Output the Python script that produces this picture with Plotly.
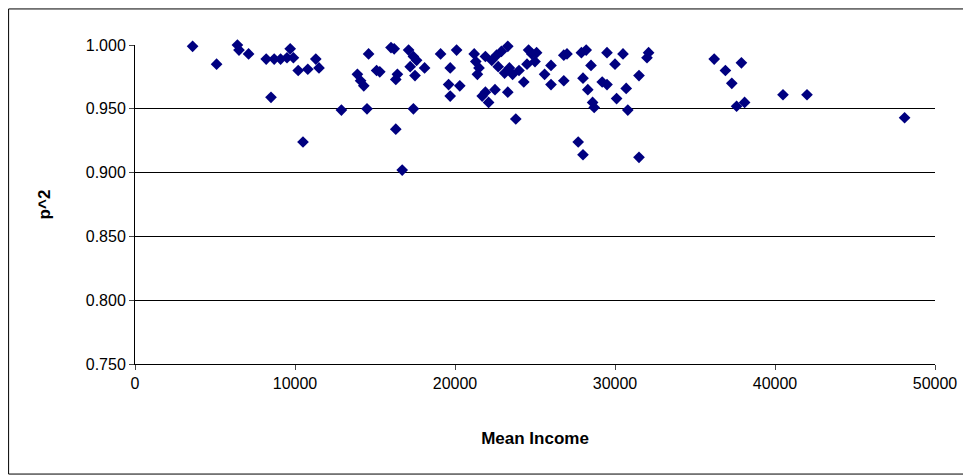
import plotly.graph_objects as go

income = [3600, 5100, 6400, 6500, 7100, 8200, 8500, 8700, 9100, 9500, 9700, 9900,
          10200, 10500, 10800, 11300, 11500, 12900, 13900, 14100, 14300, 14500, 14600,
          15100, 15300, 16000, 16200, 16300, 16300, 16400, 16700, 17100, 17200, 17400,
          17400, 17500, 17600, 18100, 19100, 19600, 19700, 19700, 20100, 20300, 21200,
          21300, 21400, 21500, 21700, 21900, 21900, 22100, 22300, 22500, 22600, 22700,
          22900, 23100, 23300, 23300, 23400, 23600, 23800, 24000, 24300, 24500, 24600,
          24800, 25000, 25100, 25600, 26000, 26000, 26800, 26800, 27000, 27700, 27900,
          28000, 28000, 28200, 28300, 28500, 28600, 28700, 29200, 29500, 29500, 30000,
          30100, 30500, 30700, 30800, 31500, 31500, 32000, 32100, 36200, 36900, 37300,
          37600, 37900, 38100, 40500, 42000, 48100]
p2 = [0.999, 0.985, 1.000, 0.996, 0.993, 0.989, 0.959, 0.989, 0.989, 0.990, 0.997, 0.990,
      0.980, 0.924, 0.981, 0.989, 0.982, 0.949, 0.977, 0.972, 0.968, 0.950, 0.993,
      0.980, 0.979, 0.998, 0.997, 0.934, 0.973, 0.977, 0.902, 0.996, 0.983, 0.991,
      0.950, 0.976, 0.988, 0.982, 0.993, 0.969, 0.982, 0.960, 0.996, 0.968, 0.993,
      0.987, 0.977, 0.982, 0.960, 0.991, 0.963, 0.955, 0.988, 0.965, 0.992, 0.983,
      0.995, 0.978, 0.963, 0.999, 0.982, 0.977, 0.942, 0.980, 0.971, 0.985, 0.996,
      0.993, 0.987, 0.994, 0.977, 0.969, 0.984, 0.992, 0.972, 0.993, 0.924, 0.994,
      0.914, 0.974, 0.996, 0.965, 0.984, 0.955, 0.951, 0.971, 0.994, 0.969, 0.985,
      0.958, 0.993, 0.966, 0.949, 0.976, 0.912, 0.990, 0.994, 0.989, 0.980, 0.970,
      0.952, 0.986, 0.955, 0.961, 0.961, 0.943]

fig = go.Figure(
    go.Scatter(
        x=income, y=p2, mode="markers",
        marker=dict(symbol="diamond", size=9, color="#000080"),
        cliponaxis=False,
    )
)

axis_font = dict(family="Arial, Liberation Sans", size=16, color="black")
title_font = dict(family="Arial, Liberation Sans", size=17, color="black")
fig.update_layout(
    width=971, height=476,
    paper_bgcolor="white", plot_bgcolor="white",
    margin=dict(l=127, r=44, t=37, b=120),
    showlegend=False,
    xaxis=dict(
        range=[0, 50000], tickvals=[0, 10000, 20000, 30000, 40000, 50000], tickformat="d",
        showgrid=False, zeroline=False, showline=True, linecolor="black",
        ticks="outside", ticklen=5, tickfont=axis_font,
        title=dict(text="<b>Mean Income</b>", font=title_font, standoff=40),
    ),
    yaxis=dict(
        range=[0.75, 1.0], dtick=0.05, tickformat=".3f",
        showgrid=True, gridcolor="black", gridwidth=1, zeroline=False,
        showline=True, linecolor="black", ticks="outside", ticklen=5, tickfont=axis_font,
        title=dict(text="<b>p^2</b>", font=title_font, standoff=30),
    ),
    shapes=[dict(type="rect", xref="paper", yref="paper", x0=-0.158, x1=1.044, y0=-0.345, y1=1.113,
                 line=dict(color="black", width=1))],
)

fig.write_html("out.html")
